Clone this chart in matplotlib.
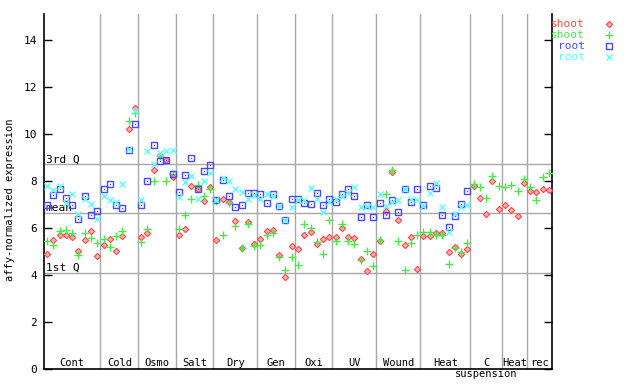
import matplotlib
matplotlib.use('Agg')
import matplotlib.pyplot as plt
from matplotlib.lines import Line2D
from matplotlib.transforms import offset_copy
import numpy as np

# groups of samples along the x axis
groups = ['Cont', 'Cold', 'Osmo', 'Salt', 'Dry', 'Gen', 'Oxi', 'UV', 'Wound',
          'Heat', 'C\nsuspension', 'Heat', 'rec']
group_sizes = [9, 6, 6, 6, 7, 6, 6, 7, 7, 8, 5, 4, 4]

# shoot, replicate 1 (red diamonds)
shoot_1 = [4.91, 5.48, 5.68, 5.68, 5.61, 5.01, 5.48, 5.85, 4.80,   # Cont
           5.28, 5.54, 5.03, 5.67, 10.22, 11.11,                    # Cold
           5.61, 5.79, 8.45, 9.09, 8.87, 8.17,                      # Osmo
           5.68, 5.96, 7.77, 7.64, 7.16, 7.74,                      # Salt
           5.47, 7.24, 7.10, 6.28, 5.16, 6.25, 5.30,                # Dry
           5.51, 5.87, 5.91, 4.83, 3.91, 5.24,                      # Gen
           5.11, 5.71, 5.84, 5.30, 5.51, 5.61,                      # Oxi
           5.61, 6.01, 5.61, 5.58, 4.69, 4.18, 4.90,                # UV
           5.44, 6.74, 8.37, 6.35, 5.26, 5.61, 4.26,                # Wound
           5.67, 5.67, 5.80, 5.77, 4.99, 5.21, 4.90, 5.11,          # Heat
           7.79, 7.28, 6.60, 8.01, 6.82,                            # C suspension
           6.99, 6.77, 6.52, 7.92,                                  # Heat
           7.58, 7.54, 7.67, 7.62]                                  # rec

# shoot, replicate 2 (green pluses)
shoot_2 = [5.45, 5.28, 5.89, 5.92, 5.78, 4.86, 5.78, 5.58, 5.34,
           5.51, 5.20, 5.67, 5.88, 10.53, 10.90,
           5.40, 5.96, 8.01, 9.05, 7.99, 8.30,
           5.94, 6.53, 7.24, 7.84, 7.34, 7.67,
           7.15, 5.68, 7.05, 6.08, 5.16, 6.18, 5.25,
           5.28, 5.68, 5.79, 4.76, 4.19, 4.76,
           4.43, 6.18, 6.01, 5.40, 4.90, 6.35,
           5.44, 6.18, 5.44, 5.33, 4.62, 5.01, 4.36,
           5.47, 7.45, 8.47, 5.43, 4.19, 5.37, 5.68,
           5.84, 5.81, 5.71, 5.71, 4.48, 5.16, 4.99, 5.37,
           7.88, 7.75, 7.28, 8.22, 7.79,
           7.75, 7.84, 7.58, 8.09,
           7.75, 7.20, 8.18, 8.35]

# root, replicate 1 (blue squares); no root samples in the last groups
root_1 = [6.96, 7.38, 7.67, 7.28, 6.96, 6.39, 7.34, 6.57, 6.70,
          7.67, 7.88, 6.96, 6.86, 9.33, 10.43,
          6.99, 7.98, 9.51, 8.83, 8.87, 8.31,
          7.54, 8.26, 8.99, 7.67, 8.43, 8.69,
          7.20, 8.02, 7.34, 6.91, 6.96, 7.50, 7.50,
          7.45, 7.07, 7.44, 6.93, 6.32, 7.24,
          7.24, 7.07, 7.03, 7.50, 6.99, 7.24,
          7.09, 7.45, 7.65, 7.37, 6.48, 6.99, 6.48,
          7.07, 6.56, 7.20, 6.69, 7.67, 7.11, 7.67,
          6.99, 7.79, 7.71, 6.56, 6.05, 6.52, 7.03, 7.58] + [np.nan] * 13

# root, replicate 2 (cyan crosses)
root_2 = [7.78, 7.62, 7.78, 7.07, 7.43, 6.59, 7.24, 7.03, 6.39,
          7.34, 7.20, 7.10, 7.88, 9.37, 10.96,
          7.20, 9.26, 8.73, 9.20, 9.26, 9.30,
          7.33, 7.97, 8.22, 7.24, 8.01, 8.35,
          7.20, 8.14, 8.01, 7.67, 7.52, 7.21, 7.41,
          7.21, 7.45, 7.34, 6.95, 6.32, 6.91,
          7.20, 7.17, 7.69, 7.21, 6.67, 7.10,
          7.21, 7.34, 7.50, 7.75, 6.90, 6.95, 6.90,
          7.45, 6.95, 7.10, 7.17, 7.67, 7.24, 7.20,
          6.95, 7.50, 7.92, 6.90, 5.84, 6.60, 6.90, 6.99] + [np.nan] * 13

# reference lines
ref_labels = ['3rd Q', 'mean', '1st Q']
ref_values = [8.72, 6.64, 4.09]

RED = '#ff4848'
GREEN = '#48e848'
BLUE = '#4848ff'
CYAN = '#60ffff'
GRID = '#a8a8a8'

plt.rcParams['font.family'] = 'DejaVu Sans Mono'
plt.rcParams['font.size'] = 8

fig = plt.figure(figsize=(6.4, 3.84), dpi=100)
ax = fig.add_axes([44 / 640, 15 / 384, 508 / 640, 355 / 384])

x = np.arange(len(shoot_1))
edges = np.cumsum(group_sizes) - 0.5

# separators and reference lines
for e in edges[:-1]:
    ax.axvline(e, color=GRID, lw=1.0, zorder=1)
for lab, val in zip(ref_labels, ref_values):
    ax.axhline(val, color=GRID, lw=1.0, zorder=1)
    ax.text(0.003, val + 0.07, lab, transform=ax.get_yaxis_transform(),
            ha='left', va='baseline', color='black', zorder=2)

# the four series
ax.plot(x, shoot_1, ls='none', marker='D', ms=3.2, mfc='#ffb0b0', mec=RED,
        mew=0.8, zorder=3)
ax.plot(x, shoot_2, ls='none', marker='+', ms=5.5, mec=GREEN, mew=1.0, zorder=3)
ax.plot(x, root_1, ls='none', marker='s', ms=4.2, mfc='none', mec=BLUE,
        mew=1.0, zorder=3)
ax.plot(x, root_1, ls='none', marker='s', ms=0.9, mfc=BLUE, mec=BLUE,
        mew=0, zorder=3)
ax.plot(x, root_2, ls='none', marker='x', ms=4.2, mec=CYAN, mew=1.0, zorder=4)

# group names along the bottom; extra lines go below the axis
centers = edges - (np.array(group_sizes) - 1) / 2.0 - 0.5
for name, cx in zip(groups, centers):
    for i, part in enumerate(name.split('\n')):
        tr = offset_copy(ax.get_xaxis_transform(), fig=fig, x=0, y=-i * 10.5,
                         units='dots')
        ax.text(cx, 0.008, part, transform=tr, ha='center', va='baseline',
                fontsize=7.5, clip_on=False)

ax.set_xlim(-0.5, edges[-1])
ax.set_ylim(0, 15.1)
ax.set_yticks(np.arange(0, 15, 2))
ax.set_xticks([])
ax.tick_params(axis='y', direction='in', length=6, width=1, pad=5,
               left=True, right=True, labelright=False)
ax.spines['top'].set_visible(False)
for s in ['left', 'right', 'bottom']:
    ax.spines[s].set_linewidth(1.2)

ax.set_ylabel('affy-normalized expression', fontsize=7.5)
ax.yaxis.set_label_coords(-0.058, 0.476)

# legend, drawn at the right of the plot
legend_items = [('shoot', RED, dict(marker='D', ms=3.2, mfc='#ffb0b0', mec=RED, mew=0.8)),
                ('shoot', GREEN, dict(marker='+', ms=5.5, mec=GREEN, mew=1.0)),
                ('root', BLUE, dict(marker='s', ms=4.2, mfc='none', mec=BLUE, mew=1.0)),
                ('root', CYAN, dict(marker='x', ms=4.2, mec=CYAN, mew=1.0))]
for i, (lab, col, mk) in enumerate(legend_items):
    yy = (384 - 24 - i * 10.9) / 384
    fig.text(585 / 640, yy, lab, color=col, ha='right', va='center')
    fig.add_artist(Line2D([609 / 640], [yy], transform=fig.transFigure,
                          ls='none', **mk))

fig.savefig('out.png', dpi=100)
